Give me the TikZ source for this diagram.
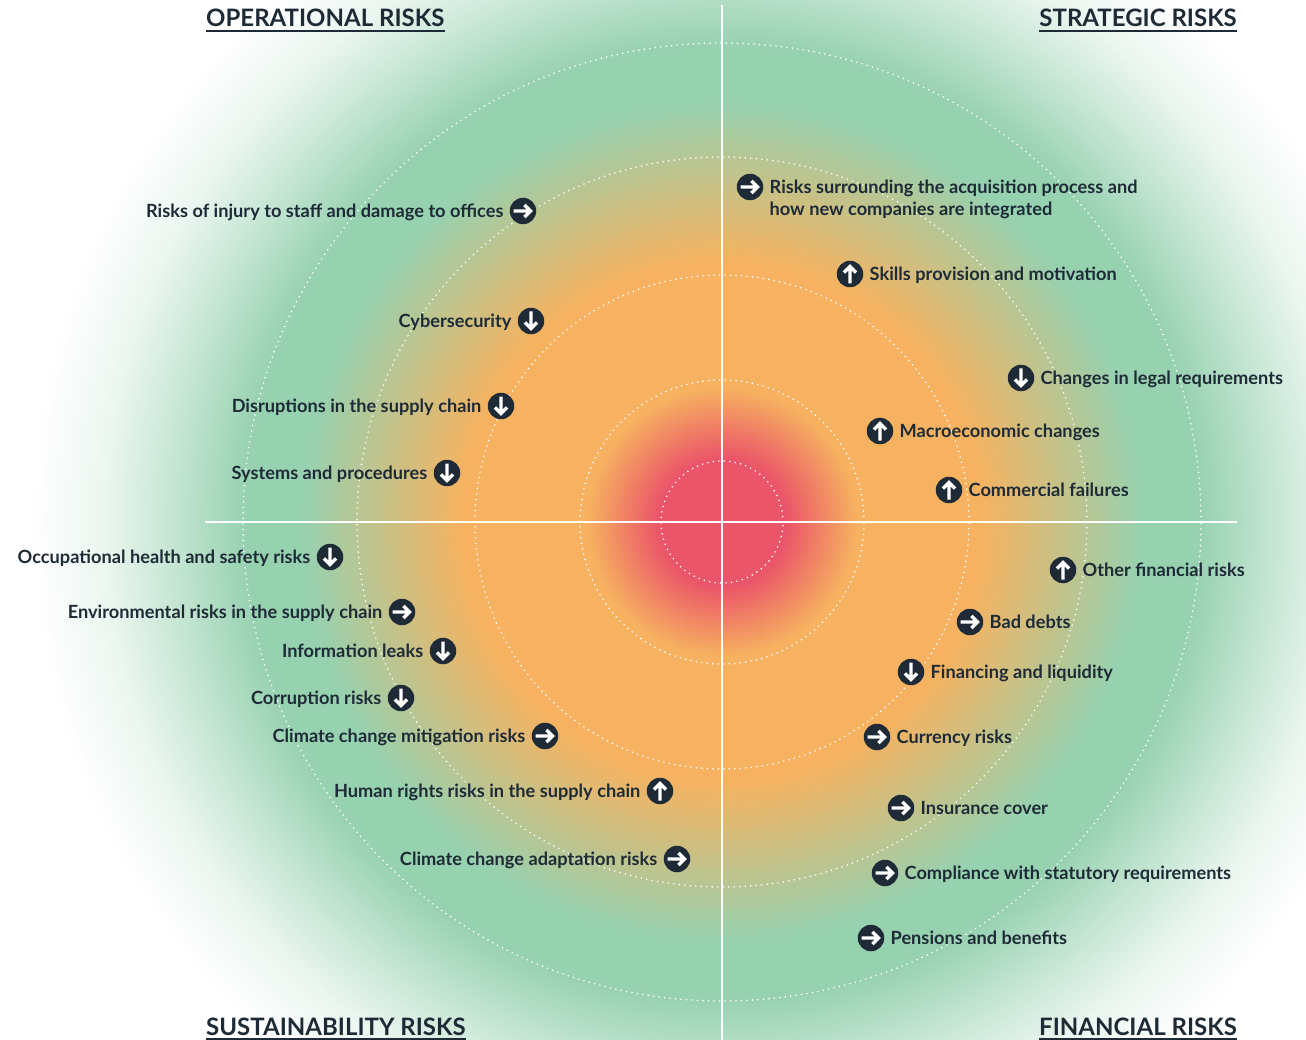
\documentclass[tikz,border=0pt]{standalone}
\usepackage{fontspec}
\setmainfont{Lato}
\definecolor{navy}{HTML}{1E2B37}
\definecolor{cred}{RGB}{235,85,105}
\definecolor{corange}{RGB}{246,178,96}
\definecolor{cgreen}{RGB}{150,209,176}
\colorlet{cgreenA}{cgreen!50!white}
\colorlet{cgreenB}{cgreen!18!white}
% radii in px divided by 36 (empirical scale of the shading on a 900pt circle)
\pgfdeclareradialshading{riskbg}{\pgfpoint{0bp}{0bp}}{%
 color(0bp)=(cred); color(1.78bp)=(cred); color(3.75bp)=(corange); color(7.22bp)=(corange);
 color(11.67bp)=(cgreen); color(13.2bp)=(cgreen); color(15.56bp)=(cgreenA);
 color(17.22bp)=(cgreenB); color(19.2bp)=(white); color(50bp)=(white)}
\tikzset{
  ring/.style={white, line width=1.8pt, line cap=round, dash pattern=on 0pt off 5.5pt},
  axisline/.style={white, line width=2.2pt},
  header/.style={font=\bfseries\fontsize{24}{28}\selectfont, text=navy, inner sep=0pt},
  uline/.style={navy, line width=1.8pt},
  lbl/.style={font=\bfseries\fontsize{18.2}{22}\selectfont, text=navy, inner sep=0pt},
  arrowstroke/.style={white, line width=3.3pt, line cap=butt, line join=miter},
  ricon/.style={circle, fill=navy, minimum size=26.5pt, inner sep=0pt},
}
\newcommand{\drawR}[1]{\draw[arrowstroke] ([xshift=-9.5pt]#1.center) -- ([xshift=7pt]#1.center)
  ([xshift=1.4pt,yshift=6.1pt]#1.center) -- ([xshift=7.5pt]#1.center) -- ([xshift=1.4pt,yshift=-6.1pt]#1.center);}
\newcommand{\drawU}[1]{\draw[arrowstroke] ([yshift=-9.5pt]#1.center) -- ([yshift=7pt]#1.center)
  ([xshift=-6.1pt,yshift=1.4pt]#1.center) -- ([yshift=7.5pt]#1.center) -- ([xshift=6.1pt,yshift=1.4pt]#1.center);}
\newcommand{\drawD}[1]{\draw[arrowstroke] ([yshift=9.5pt]#1.center) -- ([yshift=-7pt]#1.center)
  ([xshift=-6.1pt,yshift=-1.4pt]#1.center) -- ([yshift=-7.5pt]#1.center) -- ([xshift=6.1pt,yshift=-1.4pt]#1.center);}
\newcommand{\lefitem}[5]{% name, x, y, direction R/U/D, text
  \node[ricon] (i#1) at (#2,#3) {};
  \csname draw#4\endcsname{i#1}
  \node[lbl, anchor=base east] (t#1) at ([xshift=-6pt,yshift=-6.5pt]i#1.west) {#5};}
\newcommand{\rigitem}[5]{%
  \node[ricon] (i#1) at (#2,#3) {};
  \csname draw#4\endcsname{i#1}
  \node[lbl, anchor=base west] (t#1) at ([xshift=6pt,yshift=-6.5pt]i#1.east) {#5};}
\begin{document}
\begin{tikzpicture}[x=1pt,y=-1pt]
\useasboundingbox (0,0) rectangle (1306,1040);
\begin{scope}
\clip (0,0) rectangle (1306,1040);
\coordinate (c) at (722,522);
\shade[shading=riskbg] (c) circle[radius=900pt];
\foreach \r in {61,142,247,365,479} \draw[ring] (c) circle[radius=\r pt];
\end{scope}
\coordinate (vt) at (722,5); \coordinate (vb) at (722,1040);
\coordinate (hl) at (205,522); \coordinate (hr) at (1237,522);
\draw[axisline] (vt) -- (vb);
\draw[axisline] (hl) -- (hr);
% headers
\node[header, anchor=base west] (hop) at (206,27) {OPERATIONAL RISKS};
\node[header, anchor=base east] (hst) at (1237,27) {STRATEGIC RISKS};
\node[header, anchor=base west] (hsu) at (206,1035) {SUSTAINABILITY RISKS};
\node[header, anchor=base east] (hfi) at (1237,1035) {FINANCIAL RISKS};
\foreach \h in {hop,hst,hsu,hfi}
  \draw[uline] ([yshift=-4pt]\h.base west) -- ([yshift=-4pt]\h.base east);
% operational
\lefitem{1}{523}{211}{R}{Risks of injury to staff and damage to offices}
\lefitem{2}{531}{321}{D}{Cybersecurity}
\lefitem{3}{501}{406}{D}{Disruptions in the supply chain}
\lefitem{4}{447}{473}{D}{Systems and procedures}
% sustainability
\lefitem{5}{330}{557}{D}{Occupational health and safety risks}
\lefitem{6}{402}{612}{R}{Environmental risks in the supply chain}
\lefitem{7}{443}{651}{D}{Information leaks}
\lefitem{8}{401}{698}{D}{Corruption risks}
\lefitem{9}{545}{736}{R}{Climate change mitigation risks}
\lefitem{10}{660}{791}{U}{Human rights risks in the supply chain}
\lefitem{11}{677}{859}{R}{Climate change adaptation risks}
% strategic
\rigitem{12}{750}{187}{R}{Risks surrounding the acquisition process and}
\node[lbl, anchor=base west] (t12b) at ([yshift=-22pt]t12.base west) {how new companies are integrated};
\rigitem{13}{850}{274}{U}{Skills provision and motivation}
\rigitem{14}{1021}{378}{D}{Changes in legal requirements}
\rigitem{15}{880}{431}{U}{Macroeconomic changes}
\rigitem{16}{949}{490}{U}{Commercial failures}
% financial
\rigitem{17}{1063}{570}{U}{Other financial risks}
\rigitem{18}{970}{622}{R}{Bad debts}
\rigitem{19}{911}{672}{D}{Financing and liquidity}
\rigitem{20}{877}{737}{R}{Currency risks}
\rigitem{21}{901}{808}{R}{Insurance cover}
\rigitem{22}{885}{873}{R}{Compliance with statutory requirements}
\rigitem{23}{871}{938}{R}{Pensions and benefits}
\end{tikzpicture}
\end{document}
